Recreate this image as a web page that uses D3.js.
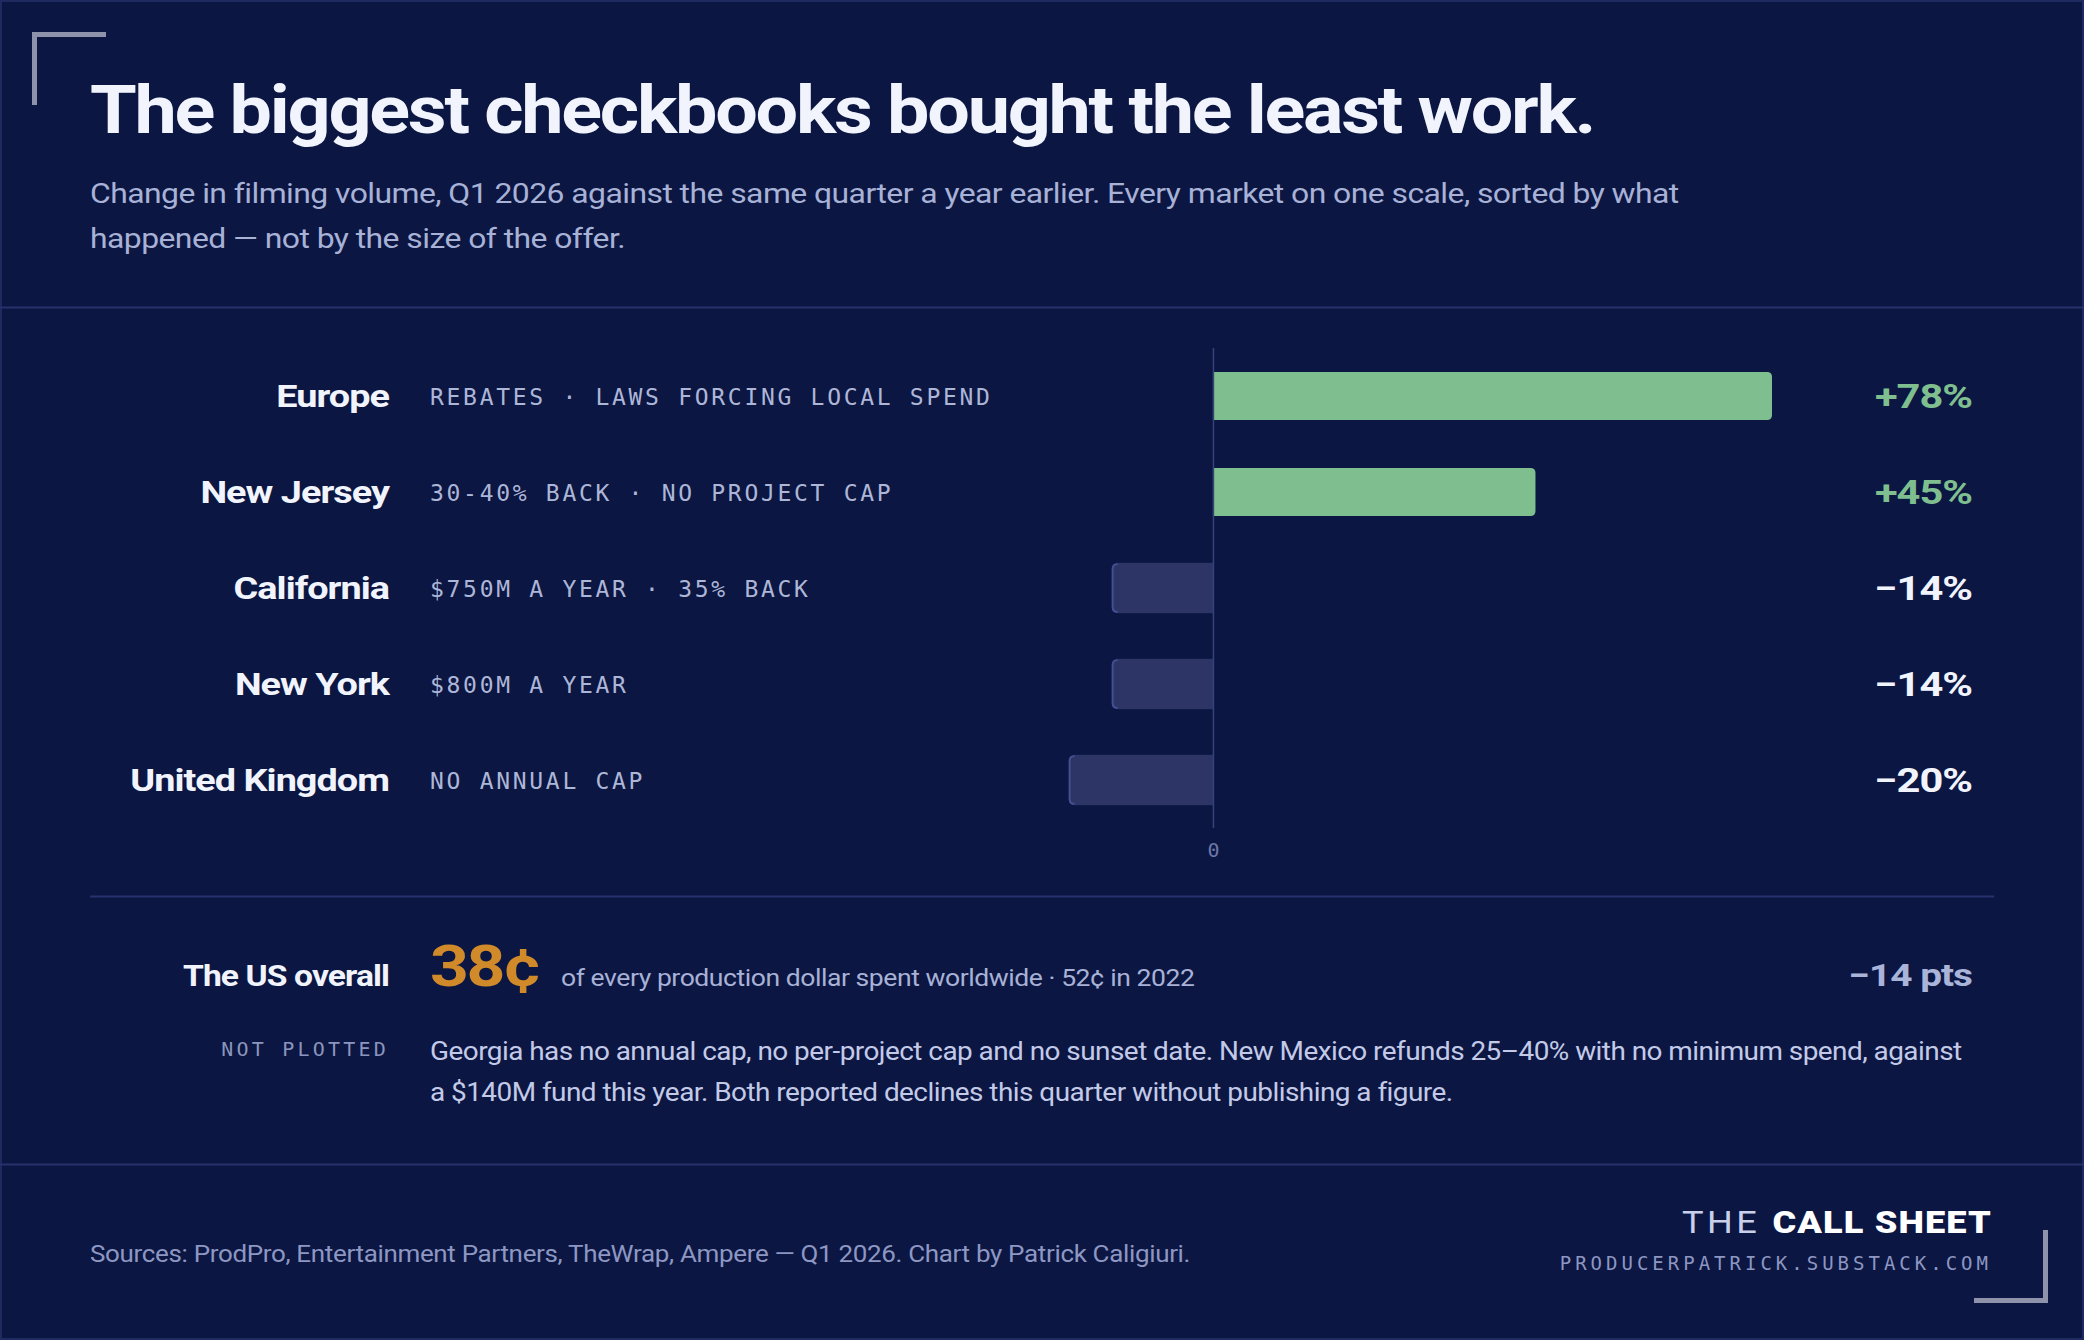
<!DOCTYPE html>
<html>
<head>
<meta charset="utf-8">
<script src="https://cdn.jsdelivr.net/npm/d3@7"></script>
<style>
  body { margin: 0; background: #0b1642; }
  svg { display: block; }
  .sans { font-family: Roboto, "Noto Sans", sans-serif; }
  .mono { font-family: "DejaVu Sans Mono", "Liberation Mono", monospace; }
</style>
</head>
<body>
<svg id="chart"></svg>
<script>
// markets, sorted by what happened
let markets = ["Europe", "New Jersey", "California", "New York", "United Kingdom"];
let notes = [
    "REBATES · LAWS FORCING LOCAL SPEND",
    "30-40% BACK · NO PROJECT CAP",
    "$750M A YEAR · 35% BACK",
    "$800M A YEAR",
    "NO ANNUAL CAP"
];
let changes = [78, 45, -14, -14, -20];   // % change in filming volume, Q1 2026 vs Q1 2025
let axisTicks = [0];

let usShare = "38¢";
let usShareNote = "of every production dollar spent worldwide · 52¢ in 2022";
let usChange = "−14 pts";

let title = "The biggest checkbooks bought the least work.";
let subtitle = [
    "Change in filming volume, Q1 2026 against the same quarter a year earlier. Every market on one scale, sorted by what",
    "happened — not by the size of the offer."
];
let notPlotted = [
    "Georgia has no annual cap, no per-project cap and no sunset date. New Mexico refunds 25–40% with no minimum spend, against",
    "a $140M fund this year. Both reported declines this quarter without publishing a figure."
];
let source = "Sources: ProdPro, Entertainment Partners, TheWrap, Ampere — Q1 2026. Chart by Patrick Caligiuri.";

let W = 2084, H = 1340;
let bg = "#0b1642", rule = "#27316b";
let green = "#7fbf8f", negFill = "#2c3565", negEdge = "#44508f";

// the reference face is wider than Roboto: widen glyphs by k
function stretch(sel, k) {
    sel.each(function () {
        let w = this.getComputedTextLength();
        d3.select(this).attr("textLength", w * k).attr("lengthAdjust", "spacingAndGlyphs");
    });
    return sel;
}

let svg = d3.select("#chart").attr("width", W).attr("height", H);

svg.append("rect").attr("x", 1).attr("y", 1).attr("width", W - 2).attr("height", H - 2)
    .attr("fill", bg).attr("stroke", "#1f2a60").attr("stroke-width", 2);

// corner brackets
svg.append("path").attr("d", "M34.5,105 V34.5 H106").attr("fill", "none")
    .attr("stroke", "#8e93ab").attr("stroke-width", 5);
svg.append("path").attr("d", "M1974,1300.5 H2045.5 V1230").attr("fill", "none")
    .attr("stroke", "#8e93ab").attr("stroke-width", 5);

// header
stretch(svg.append("text").attr("class", "sans").attr("x", 90).attr("y", 133)
    .attr("font-size", 67).attr("font-weight", 700).attr("letter-spacing", -2)
    .attr("fill", "#f1f4fc").text(title), 1.127);

stretch(svg.append("g").selectAll("text").data(subtitle).join("text")
    .attr("class", "sans").attr("x", 90).attr("y", (d, i) => 203 + i * 45)
    .attr("font-size", 28).attr("letter-spacing", -0.5).attr("fill", "#a8b1d6").text(d => d), 1.14);

svg.append("line").attr("x1", 0).attr("x2", W).attr("y1", 307.5).attr("y2", 307.5)
    .attr("stroke", rule).attr("stroke-width", 2);

// scales
let x = d3.scaleLinear().domain([-20, 78]).range([1213 - 20 * 7.17, 1772]);
let y = d3.scaleBand().domain(markets).range([348, 828]).paddingInner(0.5).paddingOuter(0.25);
let r = 5;

function barPath(v, name) {
    let y0 = y(name), h = y.bandwidth();
    let x0 = x(0), x1 = x(v);
    let s = v >= 0 ? -1 : 1;
    return `M${x0},${y0} H${x1 + s * r} Q${x1},${y0} ${x1},${y0 + r} V${y0 + h - r} Q${x1},${y0 + h} ${x1 + s * r},${y0 + h} H${x0} Z`;
}

let rows = markets.map((m, i) => ({name: m, note: notes[i], value: changes[i]}));

// bars
svg.append("g").selectAll("path").data(rows).join("path")
    .attr("d", d => barPath(d.value, d.name))
    .attr("fill", d => d.value >= 0 ? green : negFill)
    .attr("stroke", d => d.value >= 0 ? "none" : negEdge)
    .attr("stroke-width", 2);
// keep the lighter edge only on the outer end of negative bars
svg.append("g").selectAll("rect").data(rows.filter(d => d.value < 0)).join("rect")
    .attr("x", d => x(d.value) + r).attr("y", d => y(d.name) - 1.2)
    .attr("width", d => x(0) - x(d.value) - r).attr("height", y.bandwidth() + 2.4)
    .attr("fill", negFill);

// zero line
svg.append("line").attr("x1", x(0) + 0.5).attr("x2", x(0) + 0.5).attr("y1", 348).attr("y2", 828)
    .attr("stroke", "#38437c").attr("stroke-width", 1.5);

// axis label "0"
let axis = svg.append("g").attr("transform", "translate(0,838)")
    .call(d3.axisBottom(x).tickValues(axisTicks).tickSize(0).tickPadding(0));
axis.select(".domain").remove();
axis.selectAll("text").attr("class", "mono").attr("font-size", 20).attr("dy", 0).attr("y", 19)
    .attr("fill", "#6d78aa");

// row labels
let mid = d => y(d.name) + y.bandwidth() / 2;
stretch(svg.append("g").selectAll("text").data(rows).join("text")
    .attr("class", "sans").attr("x", 389).attr("y", d => mid(d) + 11)
    .attr("text-anchor", "end").attr("font-size", 31).attr("font-weight", 700)
    .attr("letter-spacing", -0.8).attr("fill", "#f1f4fc").text(d => d.name), 1.22);

svg.append("g").selectAll("text").data(rows).join("text")
    .attr("class", "mono").attr("x", 430).attr("y", d => mid(d) + 9)
    .attr("font-size", 23).attr("letter-spacing", 2.7).attr("fill", "#aeb6d8").text(d => d.note);

let fmt = d3.format("+d");
stretch(svg.append("g").selectAll("text").data(rows).join("text")
    .attr("class", "sans").attr("x", 1972).attr("y", d => mid(d) + 12)
    .attr("text-anchor", "end").attr("font-size", 33).attr("font-weight", 700)
    .attr("letter-spacing", -0.8).attr("fill", d => d.value >= 0 ? green : "#f1f4fc")
    .text(d => fmt(d.value) + "%"), 1.26);

// US overall block
svg.append("line").attr("x1", 90).attr("x2", 1994).attr("y1", 896.5).attr("y2", 896.5)
    .attr("stroke", rule).attr("stroke-width", 2);

stretch(svg.append("text").attr("class", "sans").attr("x", 389).attr("y", 986)
    .attr("text-anchor", "end").attr("font-size", 30).attr("font-weight", 700)
    .attr("letter-spacing", -0.8).attr("fill", "#f1f4fc").text("The US overall"), 1.12);
stretch(svg.append("text").attr("class", "sans").attr("x", 430).attr("y", 986)
    .attr("font-size", 58).attr("font-weight", 700).attr("letter-spacing", -2)
    .attr("fill", "#d08a2a").text(usShare), 1.17);
stretch(svg.append("text").attr("class", "sans").attr("x", 561).attr("y", 986)
    .attr("font-size", 24).attr("letter-spacing", -0.4).attr("fill", "#a8b1d6").text(usShareNote), 1.105);
stretch(svg.append("text").attr("class", "sans").attr("x", 1972).attr("y", 986)
    .attr("text-anchor", "end").attr("font-size", 31).attr("font-weight", 700)
    .attr("letter-spacing", -0.8).attr("fill", "#aab3d8").text(usChange), 1.25);

svg.append("text").attr("class", "mono").attr("x", 389).attr("y", 1056)
    .attr("text-anchor", "end").attr("font-size", 20).attr("letter-spacing", 3.2)
    .attr("fill", "#8c95bd").text("NOT PLOTTED");
stretch(svg.append("g").selectAll("text").data(notPlotted).join("text")
    .attr("class", "sans").attr("x", 430).attr("y", (d, i) => 1060 + i * 41)
    .attr("font-size", 26).attr("letter-spacing", -0.5).attr("fill", "#c3cae8").text(d => d), 1.074);

// footer
svg.append("line").attr("x1", 0).attr("x2", W).attr("y1", 1164.5).attr("y2", 1164.5)
    .attr("stroke", rule).attr("stroke-width", 2);
stretch(svg.append("text").attr("class", "sans").attr("x", 90).attr("y", 1262)
    .attr("font-size", 23).attr("letter-spacing", -0.3).attr("fill", "#8d97c2").text(source), 1.13);

let brand = svg.append("text").attr("class", "sans").attr("x", 1992).attr("y", 1233)
    .attr("text-anchor", "end").attr("font-size", 32);
brand.append("tspan").attr("font-weight", 400).attr("letter-spacing", 3).attr("fill", "#c9d0ec").text("THE ");
brand.append("tspan").attr("font-weight", 900).attr("letter-spacing", 1).attr("fill", "#ffffff").text("CALL SHEET");
stretch(brand, 1.13);

svg.append("text").attr("class", "mono").attr("x", 1992).attr("y", 1270)
    .attr("text-anchor", "end").attr("font-size", 19).attr("letter-spacing", 4)
    .attr("fill", "#8d97c2").text("PRODUCERPATRICK.SUBSTACK.COM");
</script>
</body>
</html>
